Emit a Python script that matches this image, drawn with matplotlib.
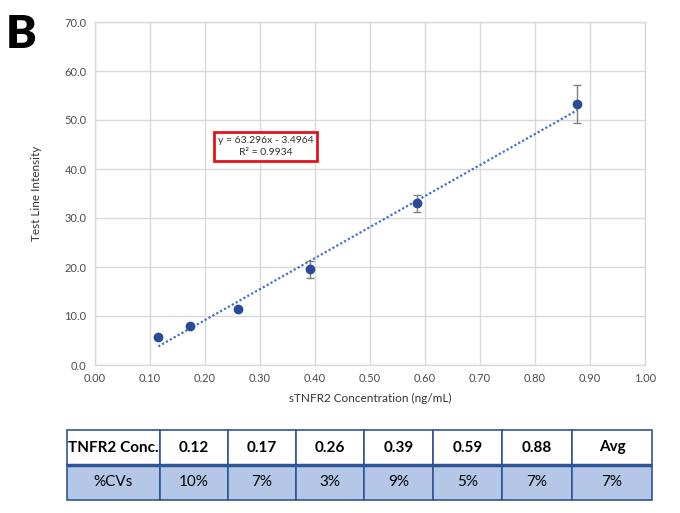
import numpy as np
import matplotlib.pyplot as plt

plt.rcParams['font.family'] = ['Lato', 'DejaVu Sans']

conc = [0.115, 0.172, 0.26, 0.39, 0.585, 0.877]
intensity = [5.8, 8.0, 11.5, 19.5, 33.0, 53.2]
err = [0.4, 0.4, 0.4, 1.8, 1.7, 3.9]

# Linear fit shown on the chart
slope = 63.296
intercept = -3.4964
r2 = 0.9934

# Table below the chart
table_header = ['TNFR2 Conc.', '0.12', '0.17', '0.26', '0.39', '0.59', '0.88', 'Avg']
table_cv = ['%CVs', '10%', '7%', '3%', '9%', '5%', '7%', '7%']

fig = plt.figure(figsize=(6.8, 5.13), dpi=100)
ax = fig.add_axes([95 / 680, 1 - 365 / 513, 550 / 680, 343 / 513])

grid_c = '#d9d9d9'
ax.set_xlim(0, 1.0)
ax.set_ylim(0, 70)
ax.set_xticks(np.arange(0, 1.01, 0.1))
ax.set_yticks(np.arange(0, 71, 10))
ax.set_xticklabels([f'{t:.2f}' for t in np.arange(0, 1.01, 0.1)])
ax.set_yticklabels([f'{t:.1f}' for t in np.arange(0, 71, 10)])
ax.grid(True, color=grid_c, linewidth=1)
ax.set_axisbelow(True)
for s in ax.spines.values():
    s.set_color(grid_c)
    s.set_linewidth(1)
ax.tick_params(length=0, colors='#4d4d4d', labelsize=8, pad=6)

# trend line
xfit = np.array([min(conc), max(conc)])
ax.plot(xfit, slope * xfit + intercept, linestyle=(0, (1, 1)), color='#4472c4', lw=1.6)

ax.errorbar(conc, intensity, yerr=err, fmt='o', color='#2a4a9a', markersize=6,
            ecolor='#7f7f7f', elinewidth=1, capsize=3, capthick=1)

ax.text(0.31, 44.6, f'y = {slope}x - {abs(intercept)}\nR² = {r2}', ha='center', va='center',
        fontsize=7.5, color='#333333', linespacing=1.3,
        bbox=dict(boxstyle='square,pad=0.4', fc='white', ec='#e3141b', lw=2))

ax.set_xlabel('sTNFR2 Concentration (ng/mL)', fontsize=8.5, color='#333333', labelpad=6)
ax.set_ylabel('Test Line Intensity', fontsize=8.5, color='#333333', labelpad=16)

fig.text(6 / 680, 1 - 48 / 513, 'B', fontsize=33, fontweight='heavy', color='black')

# table
tax = fig.add_axes([67 / 680, 1 - 500 / 513, 585 / 680, 70 / 513])
tax.axis('off')
widths = [93, 68, 68, 68, 69, 69, 70, 80]
tbl = tax.table(cellText=[table_header, table_cv], bbox=[0, 0, 1, 1],
                colWidths=[w / sum(widths) for w in widths], cellLoc='center')
tbl.auto_set_font_size(False)
for (r, c), cell in tbl.get_celld().items():
    cell.set_edgecolor('#2f5597')
    cell.set_linewidth(1.2)
    if r == 0:
        cell.set_facecolor('white')
        cell.get_text().set_fontweight('bold')
    else:
        cell.set_facecolor('#b4c7e7')
    cell.get_text().set_fontsize(11)
    cell.get_text().set_color('black')

tax.axhline(0.5, color='#2f5597', lw=2.5)

fig.savefig('out.png', dpi=100)
